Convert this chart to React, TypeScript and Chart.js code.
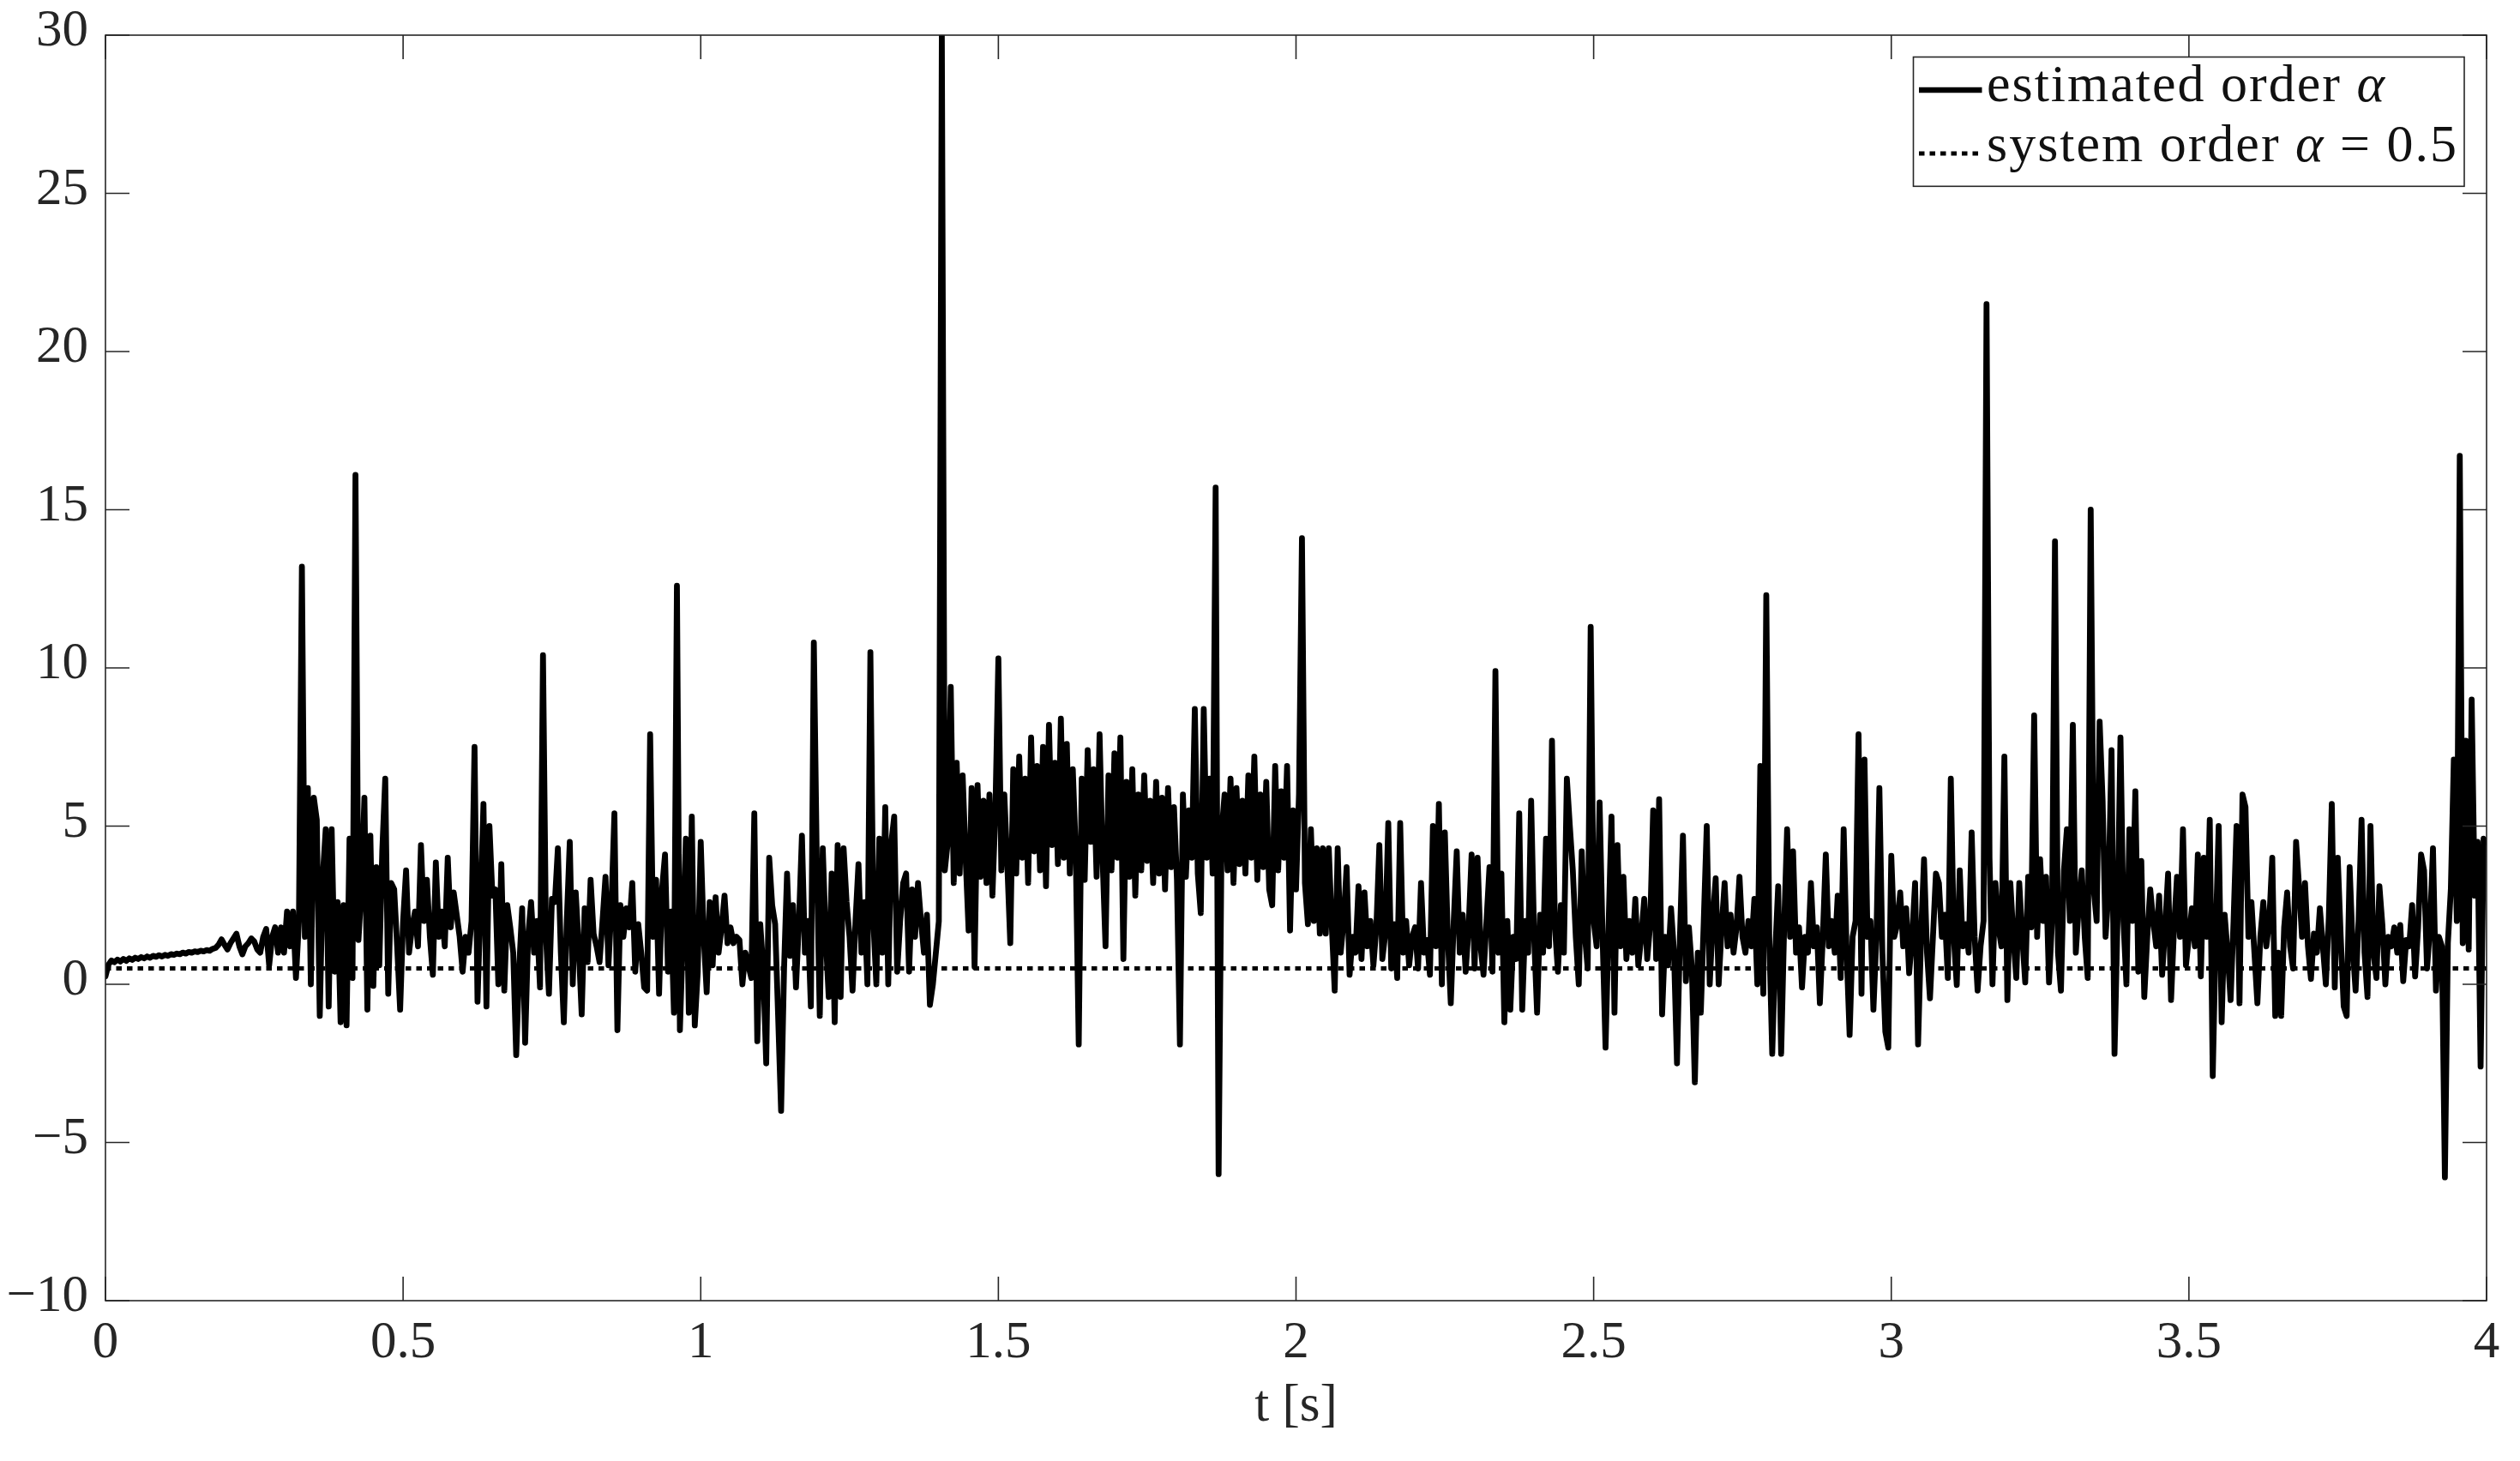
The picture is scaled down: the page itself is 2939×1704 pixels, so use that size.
import React, { useEffect, useRef } from 'react';
import { Chart, registerables } from 'chart.js';

Chart.register(...registerables);

// ---------------- data ----------------
const SAMPLE_STEP = 0.005; // seconds between samples, t = 0 … 4 s

const estimatedOrder: number[] = [
  // 0.000 – 0.095
  0.25, 0.62, 0.75, 0.7, 0.78, 0.72, 0.8, 0.74, 0.82, 0.77, 0.84, 0.8, 0.86, 0.82, 0.88, 0.84, 0.9, 0.87, 0.92, 0.88,
  // 0.100 – 0.195
  0.93, 0.9, 0.95, 0.93, 0.97, 0.95, 1.0, 0.97, 1.02, 1.0, 1.04, 1.02, 1.06, 1.04, 1.08, 1.06, 1.12, 1.15, 1.25, 1.42,
  // 0.200 – 0.295
  1.25, 1.1, 1.3, 1.45, 1.6, 1.2, 0.95, 1.2, 1.3, 1.45, 1.35, 1.1, 1.0, 1.5, 1.75, 0.6, 1.5, 1.8, 1.0, 1.8,
  // 0.300 – 0.395
  1.0, 2.3, 1.2, 2.3, 0.2, 2.0, 13.2, 1.5, 6.2, 0.0, 5.9, 5.2, -1.0, 3.4, 4.9, -0.7, 4.9, 0.4, 2.6, -1.2,
  // 0.400 – 0.495
  2.5, -1.3, 4.6, 0.2, 16.1, 1.4, 3.0, 5.9, -0.8, 4.7, -0.05, 3.7, 0.6, 4.2, 6.5, -0.3, 3.2, 3.0, 1.2, -0.8,
  // 0.500 – 0.595
  2.0, 3.6, 1.0, 1.8, 2.3, 1.2, 4.4, 2.0, 3.3, 1.5, 0.3, 3.85, 1.5, 2.3, 1.2, 4.0, 1.8, 2.9, 2.2, 1.5,
  // 0.600 – 0.695
  0.4, 1.5, 1.0, 2.0, 7.5, -0.55, 2.5, 5.7, -0.7, 5.0, 2.8, 3.0, 0.0, 3.8, -0.2, 2.5, 1.8, 1.0, -2.24, 0.5,
  // 0.700 – 0.795
  2.4, -1.85, 1.5, 2.6, 1.0, 2.0, -0.1, 10.4, 1.5, -0.3, 2.7, 2.6, 4.3, 1.0, -1.2, 2.0, 4.5, 0.0, 2.9, 1.2,
  // 0.800 – 0.895
  -0.95, 2.4, 0.7, 3.3, 1.6, 1.2, 0.7, 2.0, 3.4, 0.6, 2.5, 5.4, -1.45, 2.5, 1.5, 2.4, 1.8, 3.2, 0.4, 1.9,
  // 0.900 – 0.995
  1.0, -0.1, -0.2, 7.9, 1.5, 3.3, -0.3, 3.0, 4.1, 0.4, 2.3, -0.9, 12.6, -1.45, 1.5, 4.6, -0.9, 5.3, -1.3, 0.4,
  // 1.000 – 1.095
  4.5, 1.5, -0.25, 2.6, 0.6, 2.75, 1.0, 1.8, 2.8, 1.3, 1.8, 1.3, 1.5, 1.4, 0.0, 1.0, 0.6, 0.2, 5.4, -1.8,
  // 1.100 – 1.195
  1.9, 0.5, -2.5, 4.0, 2.5, 1.9, -1.0, -4.0, 0.5, 3.5, 0.9, 2.5, -0.1, 2.0, 4.7, 1.0, 2.0, -0.7, 10.8, 3.8,
  // 1.200 – 1.295
  -1.0, 4.3, 1.5, -0.4, 3.5, -1.2, 4.4, -0.4, 4.3, 2.6, 1.5, -0.2, 2.0, 3.8, 1.0, 2.6, 0.0, 10.5, 2.0, 0.0,
  // 1.300 – 1.395
  4.6, 1.0, 5.6, 0.0, 4.45, 5.3, 0.4, 2.0, 3.2, 3.5, 0.4, 3.0, 1.5, 3.2, 2.0, 1.0, 2.2, -0.65, 0.0, 1.0,
  // 1.400 – 1.495
  2.0, 30, 3.6, 4.5, 9.4, 3.2, 7.0, 3.5, 6.6, 4.0, 1.7, 6.2, 0.55, 6.3, 3.4, 5.8, 3.2, 6.0, 2.8, 5.5,
  // 1.500 – 1.595
  10.3, 3.6, 6.0, 3.8, 1.3, 6.8, 3.5, 7.2, 4.0, 6.5, 3.2, 7.8, 4.2, 6.9, 3.6, 7.5, 3.1, 8.2, 4.4, 7.0,
  // 1.600 – 1.695
  3.8, 8.4, 4.0, 7.6, 3.5, 6.8, 4.2, -1.9, 6.5, 3.3, 7.4, 4.5, 6.8, 3.4, 7.9, 4.0, 1.2, 6.6, 3.6, 7.3,
  // 1.700 – 1.795
  4.0, 7.8, 0.8, 6.4, 3.4, 6.8, 2.8, 6.0, 3.6, 6.6, 3.9, 5.8, 3.2, 6.4, 3.5, 5.9, 3.0, 6.2, 3.7, 5.6,
  // 1.800 – 1.895
  3.3, -1.9, 6.0, 3.4, 5.5, 4.0, 8.7, 3.5, 2.25, 8.7, 4.0, 6.5, 3.5, 15.7, -6.0, 4.8, 6.0, 3.6, 6.5, 3.2,
  // 1.900 – 1.995
  6.2, 3.8, 5.8, 3.5, 6.6, 4.0, 7.2, 3.3, 6.0, 3.7, 6.4, 3.0, 2.5, 6.9, 3.6, 6.1, 4.0, 6.9, 1.7, 5.5,
  // 2.000 – 2.095
  3.0, 6.0, 14.1, 3.2, 1.9, 4.9, 2.0, 4.3, 1.6, 4.3, 1.6, 4.3, 1.9, -0.2, 4.3, 1.0, 2.0, 3.7, 0.3, 1.5,
  // 2.100 – 2.195
  1.0, 3.1, 0.8, 2.9, 1.2, 2.0, 0.6, 1.8, 4.4, 0.8, 1.6, 5.1, 0.5, 1.9, 0.2, 5.1, 1.0, 2.0, 0.6, 1.5,
  // 2.200 – 2.295
  1.8, 0.5, 3.2, 1.0, 1.4, 0.3, 5.0, 1.2, 5.7, 0.0, 4.8, 1.5, -0.6, 2.0, 4.2, 1.0, 2.2, 0.4, 1.8, 4.1,
  // 2.300 – 2.395
  0.5, 4.0, 1.2, 0.3, 2.0, 3.7, 0.4, 9.9, 1.0, 3.5, -1.2, 2.0, -0.8, 1.5, 0.8, 5.4, -0.8, 2.0, 1.0, 5.8,
  // 2.400 – 2.495
  1.5, -0.9, 2.2, 1.0, 4.6, 1.2, 7.7, 1.8, 0.4, 2.5, 1.0, 6.5, 5.0, 3.6, 1.5, 0.0, 4.2, 1.6, 0.5, 11.3,
  // 2.500 – 2.595
  2.0, 1.2, 5.75, 1.5, -2.0, 1.8, 5.3, -0.9, 4.4, 1.2, 3.4, 0.8, 2.0, 1.0, 2.7, 0.6, 1.5, 2.7, 0.8, 1.9,
  // 2.600 – 2.695
  5.5, 0.8, 5.85, -0.95, 1.5, 0.6, 2.4, 1.0, -2.5, 1.5, 4.7, 0.1, 1.8, 0.5, -3.1, 1.0, -0.9, 2.0, 5.0, 0.0,
  // 2.700 – 2.795
  2.0, 3.35, 0.0, 1.8, 3.2, 1.2, 2.2, 1.0, 1.8, 3.4, 1.5, 1.0, 2.0, 1.2, 2.7, 0.0, 6.9, -0.3, 12.3, 1.5,
  // 2.800 – 2.895
  -2.2, 1.0, 3.1, -2.2, 1.8, 4.9, 1.5, 4.2, 1.0, 1.8, -0.1, 1.5, 1.0, 3.2, 1.2, 1.8, -0.6, 1.5, 4.1, 1.2,
  // 2.900 – 2.995
  2.0, 1.0, 2.8, 0.2, 4.9, 1.0, -1.6, 1.5, 2.0, 7.9, -0.3, 7.1, 1.5, 2.0, -0.8, 1.5, 6.2, 1.0, -1.5, -2.0,
  // 3.000 – 3.095
  4.06, 1.5, 1.9, 2.9, 1.2, 2.4, 0.35, 1.5, 3.2, -1.9, 1.5, 3.95, 1.0, -0.44, 1.5, 3.5, 3.2, 1.5, 2.2, 0.2,
  // 3.100 – 3.195
  6.5, 1.5, -0.02, 3.6, 1.2, 1.9, 1.0, 4.8, 1.5, -0.2, 1.2, 2.0, 21.5, 4.0, 0.0, 3.2, 1.8, 1.2, 7.2, -0.5,
  // 3.200 – 3.295
  3.2, 1.5, 0.2, 3.2, 1.5, 0.06, 3.4, 1.8, 8.5, 1.5, 3.95, 2.0, 3.4, 0.06, 2.0, 14.0, 1.0, -0.2, 3.6, 4.9,
  // 3.300 – 3.395
  2.0, 8.2, 1.0, 2.5, 3.6, 1.5, 0.2, 15.0, 3.0, 2.0, 8.3, 5.8, 1.5, 3.0, 7.4, -2.2, 2.0, 7.8, 2.0, 0.0,
  // 3.400 – 3.495
  4.9, 2.0, 6.1, 0.4, 3.9, -0.4, 1.5, 3.0, 2.0, 1.2, 2.8, 0.3, 1.8, 3.5, -0.5, 1.8, 3.4, 1.5, 4.9, 0.6,
  // 3.500 – 3.595
  1.5, 2.4, 1.2, 4.1, 0.25, 4.0, 1.5, 5.2, -2.9, 1.5, 5.0, -1.2, 2.2, 1.0, -0.5, 2.0, 5.0, -0.6, 6.0, 5.6,
  // 3.600 – 3.695
  1.5, 2.6, 1.0, -0.6, 1.5, 2.6, 1.2, 2.0, 4.0, -1.0, 1.0, -1.0, 1.8, 2.9, 1.2, 0.5, 4.5, 3.1, 1.5, 3.2,
  // 3.700 – 3.795
  1.2, 0.17, 1.6, 1.0, 2.4, 1.2, 0.0, 2.1, 5.7, -0.1, 4.0, 1.5, -0.7, -1.0, 3.7, 1.2, -0.2, 2.0, 5.2, 1.0,
  // 3.800 – 3.895
  -0.4, 5.0, 1.0, 0.2, 3.1, 1.87, 0.0, 1.5, 1.2, 1.8, 1.0, 1.87, 0.1, 1.4, 1.2, 2.5, 0.25, 1.8, 4.1, 3.6,
  // 3.900 – 4.000
  0.5, 1.8, 4.3, -0.2, 1.5, 1.2, -6.1, 1.3, 3.0, 7.1, 2.0, 16.7, 1.3, 7.7, 1.1, 9.0, 2.8, 4.5, -2.6, 4.6, 4.5,
];

const systemOrderTime: number[] = [0, 4];
const systemOrderValue: number[] = [0.5, 0.5];

const xTickValues: number[] = [0, 0.5, 1, 1.5, 2, 2.5, 3, 3.5, 4];
const yTickValues: number[] = [-10, -5, 0, 5, 10, 15, 20, 25, 30];
const xAxisTitle = 't [s]';

type Part = { text: string; italic?: boolean };
const legendEstimated: Part[] = [{ text: 'estimated order ' }, { text: 'α', italic: true }];
const legendSystem: Part[] = [{ text: 'system order ' }, { text: 'α', italic: true }, { text: ' = 0.5' }];

// ---------------- style ----------------
const W = 2939;
const H = 1704;
const AXIS_COLOR = '#262626';
const FONT = "'Liberation Serif', 'Times New Roman', serif";
const LINE_W = 6.8;
const DOT_W = 5;
const DOT_DASH = [6.5, 6];

const frameTicksPlugin = {
  id: 'frameTicks',
  afterDatasetsDraw(chart: any) {
    const { ctx, chartArea: a, scales } = chart;
    const TL = 28;
    ctx.save();
    ctx.strokeStyle = AXIS_COLOR;
    ctx.lineWidth = 1.6;
    ctx.beginPath();
    xTickValues.forEach((v) => {
      const x = scales.x.getPixelForValue(v);
      ctx.moveTo(x, a.bottom);
      ctx.lineTo(x, a.bottom - TL);
      ctx.moveTo(x, a.top);
      ctx.lineTo(x, a.top + TL);
    });
    yTickValues.forEach((v) => {
      const y = scales.y.getPixelForValue(v);
      ctx.moveTo(a.left, y);
      ctx.lineTo(a.left + TL, y);
      ctx.moveTo(a.right, y);
      ctx.lineTo(a.right - TL, y);
    });
    ctx.stroke();
    ctx.strokeRect(a.left, a.top, a.right - a.left, a.bottom - a.top);
    ctx.restore();
  },
};

function drawParts(ctx: CanvasRenderingContext2D, parts: Part[], x: number, y: number, size: number) {
  let cx = x;
  parts.forEach((p) => {
    ctx.font = `${p.italic ? 'italic ' : ''}${size}px ${FONT}`;
    ctx.fillText(p.text, cx, y);
    cx += ctx.measureText(p.text).width;
  });
}

const legendPlugin = {
  id: 'innerLegend',
  afterDraw(chart: any) {
    const { ctx, chartArea: a } = chart;
    const bx = a.right - 668.5;
    const by = a.top + 25.5;
    const bw = 642.5;
    const bh = 150.8;
    ctx.save();
    ctx.fillStyle = '#ffffff';
    ctx.fillRect(bx, by, bw, bh);
    ctx.strokeStyle = AXIS_COLOR;
    ctx.lineWidth = 1.6;
    ctx.strokeRect(bx, by, bw, bh);

    const sx0 = bx + 6.5;
    const sx1 = bx + 80;
    const tx = bx + 85.5;
    const base1 = by + 51.5;
    const base2 = by + 121.5;

    ctx.strokeStyle = '#000';
    ctx.lineCap = 'butt';
    ctx.setLineDash([]);
    ctx.lineWidth = 6.5;
    ctx.beginPath();
    ctx.moveTo(sx0, base1 - 13);
    ctx.lineTo(sx1, base1 - 13);
    ctx.stroke();

    ctx.lineWidth = DOT_W;
    ctx.setLineDash(DOT_DASH);
    ctx.beginPath();
    ctx.moveTo(sx0, base2 - 9);
    ctx.lineTo(sx1, base2 - 9);
    ctx.stroke();
    ctx.setLineDash([]);

    ctx.fillStyle = '#111111';
    ctx.textBaseline = 'alphabetic';
    ctx.textAlign = 'left';
    (ctx as any).letterSpacing = '2px';
    drawParts(ctx, legendEstimated, tx, base1, 62);
    drawParts(ctx, legendSystem, tx, base2, 62);
    (ctx as any).letterSpacing = '0px';
    ctx.restore();
  },
};

export default function App() {
  const canvasRef = useRef<HTMLCanvasElement | null>(null);

  useEffect(() => {
    document.body.style.margin = '0';
    const canvas = canvasRef.current;
    if (!canvas) return;

    const estimatedPoints = estimatedOrder.map((v, i) => ({ x: i * SAMPLE_STEP, y: v }));
    const systemPoints = systemOrderTime.map((t, i) => ({ x: t, y: systemOrderValue[i] }));

    const tickFont = { family: FONT, size: 61 };

    const chart = new Chart(canvas, {
      type: 'line',
      data: {
        datasets: [
          {
            label: 'system order α = 0.5',
            data: systemPoints,
            borderColor: '#000',
            borderWidth: DOT_W,
            borderDash: DOT_DASH,
            borderCapStyle: 'butt',
            pointRadius: 0,
            fill: false,
            order: 0,
          },
          {
            label: 'estimated order α',
            data: estimatedPoints,
            borderColor: '#000',
            borderWidth: LINE_W,
            borderJoinStyle: 'round',
            borderCapStyle: 'round',
            pointRadius: 0,
            tension: 0,
            fill: false,
            order: 1,
          },
        ],
      },
      options: {
        responsive: false,
        maintainAspectRatio: false,
        animation: false,
        events: [],
        devicePixelRatio: 1,
        layout: { padding: { top: 41, right: 39, left: 0, bottom: 0 } },
        plugins: {
          legend: { display: false },
          tooltip: { enabled: false },
          title: { display: false },
        },
        scales: {
          x: {
            type: 'linear',
            min: 0,
            max: 4,
            afterFit(scale: any) {
              scale.height = 187;
              scale.paddingLeft = 0;
              scale.paddingRight = 0;
            },
            afterBuildTicks(scale: any) {
              scale.ticks = xTickValues.map((v) => ({ value: v }));
            },
            grid: { display: false, drawTicks: false },
            border: { display: false },
            ticks: {
              autoSkip: false,
              maxRotation: 0,
              padding: 13,
              color: AXIS_COLOR,
              font: tickFont,
              callback: (v: any) => String(v),
            },
            title: {
              display: true,
              text: xAxisTitle,
              color: AXIS_COLOR,
              font: { family: FONT, size: 61 },
              padding: { top: 0, bottom: 26 },
            },
          },
          y: {
            type: 'linear',
            min: -10,
            max: 30,
            afterFit(scale: any) {
              scale.width = 123;
              scale.paddingTop = 0;
              scale.paddingBottom = 0;
            },
            afterBuildTicks(scale: any) {
              scale.ticks = yTickValues.map((v) => ({ value: v }));
            },
            grid: { display: false, drawTicks: false },
            border: { display: false },
            ticks: {
              autoSkip: false,
              padding: 20,
              labelOffset: -4,
              color: AXIS_COLOR,
              font: tickFont,
              callback: (v: any) => (Number(v) < 0 ? '\u2212' + Math.abs(Number(v)) : String(v)),
            },
          },
        },
      } as any,
      plugins: [frameTicksPlugin, legendPlugin],
    });

    return () => {
      chart.destroy();
    };
  }, []);

  return (
    <div style={{ width: W, height: H, overflow: 'hidden', background: '#fff' }}>
      <canvas ref={canvasRef} width={W} height={H} style={{ display: 'block', width: W, height: H }} />
    </div>
  );
}
